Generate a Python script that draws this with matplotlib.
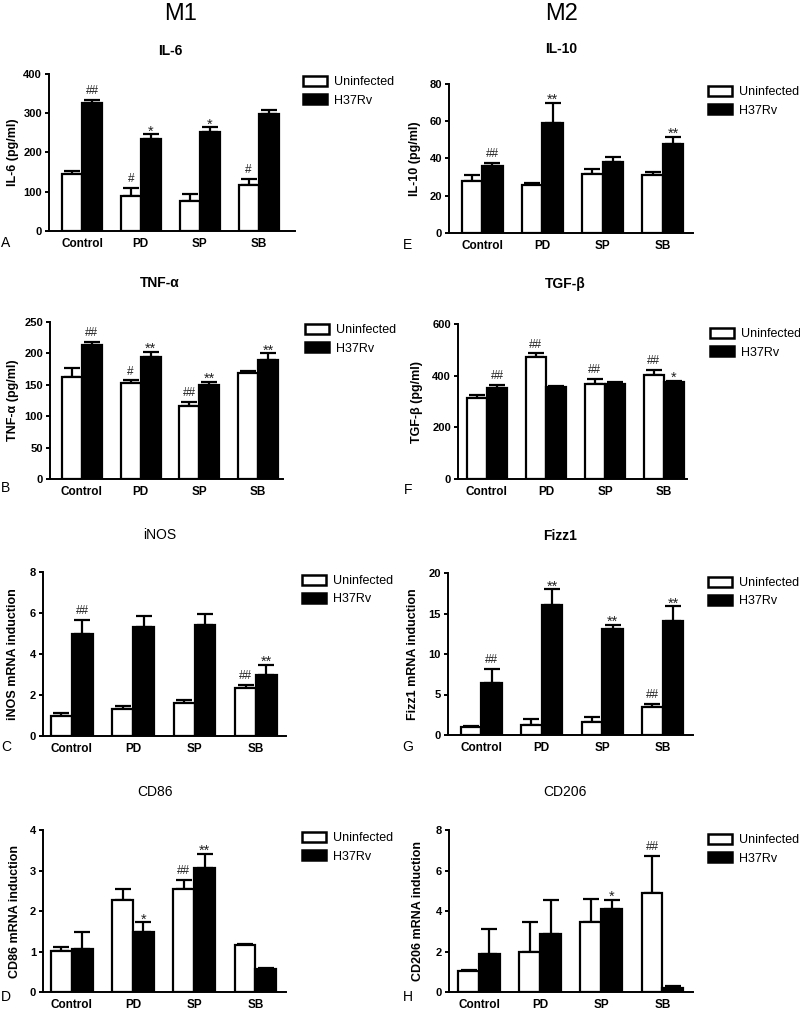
import matplotlib
matplotlib.use('Agg')
import matplotlib.pyplot as plt
import matplotlib.patches as mpatches
import numpy as np

plt.rcParams['font.family'] = ['Liberation Sans', 'DejaVu Sans']

W, H = 800, 1013

groups = ["Control", "PD", "SP", "SB"]

# values (mean, upward SEM)
il6_u = [146, 90, 77, 118];        il6_u_err = [7, 20, 17, 15]
il6_h = [325, 234, 252, 299];      il6_h_err = [9, 12, 12, 9]
il10_u = [27.7, 25.6, 31.7, 31.0]; il10_u_err = [3.6, 1.2, 2.6, 1.6]
il10_h = [36.1, 59.0, 37.9, 47.8]; il10_h_err = [1.5, 10.8, 2.9, 3.7]
tnf_u = [163, 153, 117, 169];      tnf_u_err = [14, 4, 6, 3]
tnf_h = [214, 195, 150, 189];      tnf_h_err = [4, 8, 5, 11]
tgf_u = [312, 471, 368, 404];      tgf_u_err = [12, 15, 20, 19]
tgf_h = [352, 356, 368, 375];      tgf_h_err = [13, 3, 7, 6]
inos_u = [1.0, 1.34, 1.63, 2.32];  inos_u_err = [0.10, 0.11, 0.12, 0.19]
inos_h = [4.98, 5.34, 5.42, 2.97]; inos_h_err = [0.69, 0.49, 0.54, 0.49]
fizz_u = [1.0, 1.23, 1.56, 3.46];  fizz_u_err = [0.15, 0.75, 0.64, 0.41]
fizz_h = [6.4, 16.1, 13.1, 14.1];  fizz_h_err = [1.75, 1.9, 0.5, 1.8]
cd86_u = [1.01, 2.28, 2.54, 1.15]; cd86_u_err = [0.10, 0.27, 0.23, 0.04]
cd86_h = [1.06, 1.48, 3.07, 0.57]; cd86_h_err = [0.43, 0.24, 0.34, 0.03]
cd206_u = [1.03, 1.97, 3.48, 4.88]; cd206_u_err = [0.07, 1.48, 1.12, 1.85]
cd206_h = [1.89, 2.86, 4.10, 0.18]; cd206_h_err = [1.21, 1.66, 0.45, 0.10]

# significance marks
il6_u_sig = ["", "#", "", "#"];    il6_h_sig = ["##", "*", "*", ""]
il10_u_sig = ["", "", "", ""];     il10_h_sig = ["##", "**", "", "**"]
tnf_u_sig = ["", "#", "##", ""];   tnf_h_sig = ["##", "**", "**", "**"]
tgf_u_sig = ["", "##", "##", "##"]; tgf_h_sig = ["##", "", "", "*"]
inos_u_sig = ["", "", "", "##"];   inos_h_sig = ["##", "", "", "**"]
fizz_u_sig = ["", "", "", "##"];   fizz_h_sig = ["##", "**", "**", "**"]
cd86_u_sig = ["", "", "##", ""];   cd86_h_sig = ["", "*", "**", ""]
cd206_u_sig = ["", "", "", "##"];  cd206_h_sig = ["", "", "*", ""]

# panel layout in pixels: left, right, top, bottom of the axes box
panels = [
    # letter, title, ylabel, u, ue, h, he, usig, hsig, ymax, ystep, box, xlim,
    # title_xy, letter_xy, legend_xy, ylabel_x, bold_title
    ("A", "IL-6", "IL-6 (pg/ml)", il6_u, il6_u_err, il6_h, il6_h_err, il6_u_sig, il6_h_sig,
     400, 100, (49, 295, 74, 231), (-0.56, 3.62), (170, 51), (6, 243), (303, 84), 13, True),
    ("E", "IL-10", "IL-10 (pg/ml)", il10_u, il10_u_err, il10_h, il10_h_err, il10_u_sig, il10_h_sig,
     80, 20, (449, 693, 84, 233), (-0.55, 3.5), (561, 49), (408, 245), (708, 94), 415, True),
    ("B", "TNF-α", "TNF-α (pg/ml)", tnf_u, tnf_u_err, tnf_h, tnf_h_err, tnf_u_sig, tnf_h_sig,
     250, 50, (50, 283, 322, 479), (-0.54, 3.42), (160, 283), (6, 488), (305, 332), 13, True),
    ("F", "TGF-β", "TGF-β (pg/ml)", tgf_u, tgf_u_err, tgf_h, tgf_h_err, tgf_u_sig, tgf_h_sig,
     600, 200, (458, 687, 324, 479), (-0.49, 3.39), (565, 284), (408, 490), (710, 336), 417, True),
    ("C", "iNOS", "iNOS mRNA induction", inos_u, inos_u_err, inos_h, inos_h_err, inos_u_sig, inos_h_sig,
     8, 2, (43, 286, 572, 736), (-0.47, 3.49), (160, 535), (6, 747), (302, 583), 13, False),
    ("G", "Fizz1", "Fizz1 mRNA induction", fizz_u, fizz_u_err, fizz_h, fizz_h_err, fizz_u_sig, fizz_h_sig,
     20, 5, (448, 693, 573, 735), (-0.55, 3.5), (560, 536), (408, 747), (708, 585), 413, True),
    ("D", "CD86", "CD86 mRNA induction", cd86_u, cd86_u_err, cd86_h, cd86_h_err, cd86_u_sig, cd86_h_sig,
     4, 1, (43, 286, 830, 992), (-0.47, 3.5), (155, 792), (6, 997), (302, 840), 15, False),
    ("H", "CD206", "CD206 mRNA induction", cd206_u, cd206_u_err, cd206_h, cd206_h_err, cd206_u_sig, cd206_h_sig,
     8, 2, (449, 693, 830, 992), (-0.49, 3.5), (565, 792), (408, 997), (708, 842), 418, False),
]

fig = plt.figure(figsize=(W / 100, H / 100), dpi=100)
fig.patch.set_facecolor("white")

fig.text(181 / W, 1 - 14 / H, "M1", fontsize=17, ha="center", va="center")
fig.text(562 / W, 1 - 14 / H, "M2", fontsize=17, ha="center", va="center")

bw = 0.34
x = np.arange(len(groups))


def mark(ax, xs, vals, errs, sigs):
    for xi, v, e, s in zip(xs, vals, errs, sigs):
        if not s:
            continue
        star = "*" in s
        ax.annotate(s, (xi, v + e), xytext=(0, -3 if star else 2),
                    textcoords="offset points", ha="center", va="bottom",
                    fontsize=10.5 if star else 8.5, color="#222222")


for (letter, title, ylabel, u, ue, h, he, usig, hsig, ymax, ystep, box, xlim,
     txy, lxy, legxy, ylx, bold) in panels:
    l, r, t, b = box
    ax = fig.add_axes([l / W, 1 - b / H, (r - l) / W, (b - t) / H])

    ax.bar(x - bw / 2, u, bw, color="white", edgecolor="black", linewidth=1.6, zorder=3)
    ax.bar(x + bw / 2, h, bw, color="black", edgecolor="black", linewidth=1.6, zorder=3)
    ax.errorbar(x - bw / 2, u, yerr=[np.zeros(4), ue], fmt="none", ecolor="black",
                elinewidth=1.6, capsize=6, capthick=1.6, zorder=2)
    ax.errorbar(x + bw / 2, h, yerr=[np.zeros(4), he], fmt="none", ecolor="black",
                elinewidth=1.6, capsize=6, capthick=1.6, zorder=2)
    mark(ax, x - bw / 2, u, ue, usig)
    mark(ax, x + bw / 2, h, he, hsig)

    ax.set_xlim(*xlim)
    ax.set_ylim(0, ymax)
    ax.set_yticks(np.arange(0, ymax + ystep / 2, ystep))
    ax.set_xticks(x)
    ax.set_xticklabels(groups, fontsize=8.5, fontweight="bold")
    for lab in ax.get_yticklabels():
        lab.set_fontsize(8)
        lab.set_fontweight("bold")
    ax.tick_params(axis="x", length=0, pad=5)
    ax.tick_params(axis="y", length=3, width=1.4, pad=2)
    ax.set_ylabel(ylabel, fontsize=9, fontweight="bold")
    ax.yaxis.set_label_coords((ylx + 6 - l) / (r - l), 0.5)
    for sp in ("top", "right"):
        ax.spines[sp].set_visible(False)
    for sp in ("left", "bottom"):
        ax.spines[sp].set_linewidth(1.4)

    fig.text(txy[0] / W, 1 - txy[1] / H, title, fontsize=10,
             fontweight="bold" if bold else "normal", ha="center", va="center")
    fig.text(lxy[0] / W, 1 - lxy[1] / H, letter, fontsize=10, ha="center", va="center")

    handles = [mpatches.Patch(facecolor="white", edgecolor="black", linewidth=1.8, label="Uninfected"),
               mpatches.Patch(facecolor="black", edgecolor="black", linewidth=1.8, label="H37Rv")]
    ax.legend(handles=handles, loc="upper left", frameon=False, fontsize=9,
              bbox_to_anchor=(legxy[0] / W, 1 - (legxy[1] - 8) / H), bbox_transform=fig.transFigure,
              borderpad=0, borderaxespad=0, handlelength=1.9, handleheight=0.8,
              handletextpad=0.6, labelspacing=0.5)

plt.savefig("out.png", dpi=100, facecolor="white")
